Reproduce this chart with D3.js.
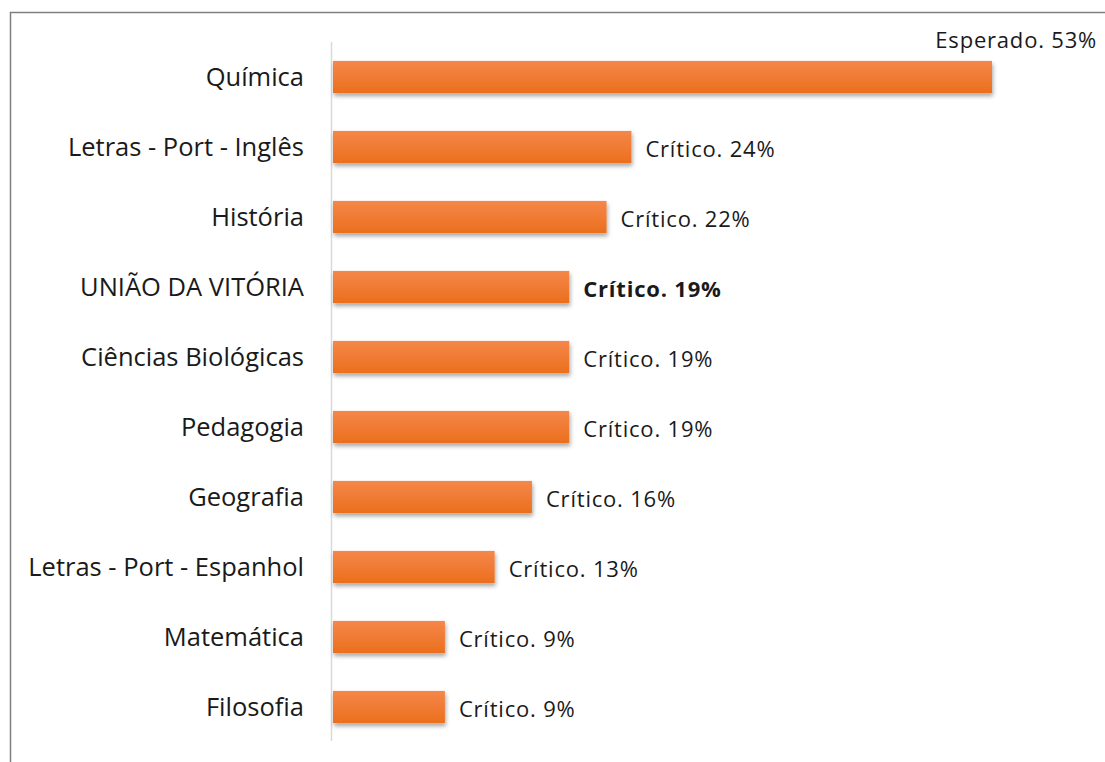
<!DOCTYPE html>
<html>
<head>
<meta charset="utf-8">
<script src="https://cdn.jsdelivr.net/npm/d3@7"></script>
<style>
  body { margin: 0; background: #fff; }
  svg { display: block; }
</style>
</head>
<body>
<script>
// data
const courses = ["Química", "Letras - Port - Inglês", "História", "UNIÃO DA VITÓRIA",
    "Ciências Biológicas", "Pedagogia", "Geografia", "Letras - Port - Espanhol",
    "Matemática", "Filosofia"];
const values = [53, 24, 22, 19, 19, 19, 16, 13, 9, 9];
const levels = ["Esperado", "Crítico", "Crítico", "Crítico", "Crítico", "Crítico",
    "Crítico", "Crítico", "Crítico", "Crítico"];
const highlight = "UNIÃO DA VITÓRIA";

const rows = courses.map((c, i) => ({ name: c, value: values[i], level: levels[i] }));

const W = 1105, H = 762;
const svg = d3.select("body").append("svg")
    .attr("width", W)
    .attr("height", H)
    .style("font-family", "'Open Sans', sans-serif");

// outer frame (cut off at right and bottom like the picture)
svg.append("path")
    .attr("d", `M10.5,${H} L10.5,12.5 L${W},12.5`)
    .attr("fill", "none")
    .attr("stroke", "#7f7f7f")
    .attr("stroke-width", 1.5);

const defs = svg.append("defs");
const grad = defs.append("linearGradient")
    .attr("id", "barGrad")
    .attr("x1", 0).attr("y1", 0).attr("x2", 0).attr("y2", 1);
grad.append("stop").attr("offset", "0%").attr("stop-color", "#f5874a");
grad.append("stop").attr("offset", "100%").attr("stop-color", "#eb6f1c");

const shadow = defs.append("filter")
    .attr("id", "shadow")
    .attr("x", "-5%").attr("y", "-20%").attr("width", "115%").attr("height", "160%");
shadow.append("feDropShadow")
    .attr("dx", 1).attr("dy", 3)
    .attr("stdDeviation", 2)
    .attr("flood-color", "#000")
    .attr("flood-opacity", 0.35);

const x0 = 333;
const x = d3.scaleLinear()
    .domain([0, 53])
    .range([x0, 992]);

const y = d3.scaleBand()
    .domain(courses)
    .range([42, 742])
    .paddingInner(0.54)
    .paddingOuter(0.27);

// vertical axis line
svg.append("line")
    .attr("x1", 331.5).attr("x2", 331.5)
    .attr("y1", 42).attr("y2", 741)
    .attr("stroke", "#d9d9d9")
    .attr("stroke-width", 1.5);

// bars
svg.selectAll(".bar")
    .data(rows)
    .enter()
    .append("rect")
    .attr("class", "bar")
    .attr("x", x(0))
    .attr("y", d => y(d.name))
    .attr("width", d => x(d.value) - x(0))
    .attr("height", y.bandwidth())
    .attr("fill", "url(#barGrad)")
    .attr("filter", "url(#shadow)");

// category labels
svg.selectAll(".cat")
    .data(rows)
    .enter()
    .append("text")
    .attr("class", "cat")
    .attr("x", 304)
    .attr("y", d => y(d.name) + y.bandwidth() / 2)
    .attr("dy", "0.35em")
    .attr("text-anchor", "end")
    .attr("font-size", "25.5px")
    .attr("fill", "#1a1a1a")
    .text(d => d.name);

// value labels
svg.selectAll(".val")
    .data(rows)
    .enter()
    .append("text")
    .attr("class", "val")
    .attr("x", d => d.level === "Esperado" ? 1097 : x(d.value) + 14)
    .attr("y", d => d.level === "Esperado" ? 40 : y(d.name) + y.bandwidth() / 2 + 2)
    .attr("dy", "0.35em")
    .attr("text-anchor", d => d.level === "Esperado" ? "end" : "start")
    .attr("font-size", "22px")
    .attr("letter-spacing", "0.8px")
    .attr("font-weight", d => d.name === highlight ? "bold" : "normal")
    .attr("fill", "#1a1a1a")
    .text(d => `${d.level}. ${d.value}%`);
</script>
</body>
</html>
